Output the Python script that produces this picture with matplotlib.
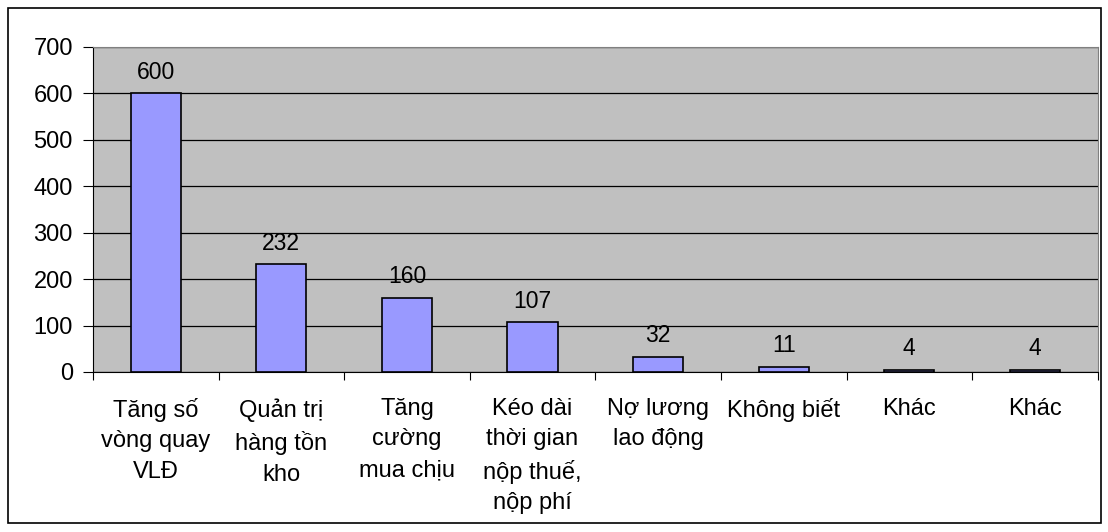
import numpy as np
import matplotlib.pyplot as plt
from matplotlib.patches import Rectangle

plt.rcParams['font.family'] = ['Liberation Sans', 'DejaVu Sans']

# data
labels = ["Tăng số\nvòng quay\nVLĐ", "Quản trị\nhàng tồn\nkho", "Tăng\ncường\nmua chịu",
          "Kéo dài\nthời gian\nnộp thuế,\nnộp phí", "Nợ lương\nlao động",
          "Không biết", "Khác", "Khác"]
values = [600, 232, 160, 107, 32, 11, 4, 4]
yticks = [0, 100, 200, 300, 400, 500, 600, 700]

fig = plt.figure(figsize=(11.08, 5.32), dpi=100)
ax = fig.add_axes([0.0839, 0.3008, 0.9068, 0.6109])
ax.set_facecolor('#C0C0C0')

x = np.arange(len(values))
bars = ax.bar(x, values, width=0.4, color='#9999FF', edgecolor='black', linewidth=1.2, zorder=3)
for xi, v in zip(x, values):
    ax.annotate(str(v), (xi, v), xytext=(0, 7), textcoords='offset points',
                ha='center', va='bottom', fontsize=16.5)

ax.set_xlim(-0.5, len(values) - 0.5)
ax.set_ylim(0, 700)
ax.set_yticks(yticks)
ax.yaxis.grid(True, color='black', linewidth=0.9, zorder=1)
ax.tick_params(axis='y', labelsize=17, length=7, direction='out', pad=7.5)

# category ticks between bars
ax.set_xticks(np.arange(len(values) + 1) - 0.5)
ax.set_xticklabels([])
ax.tick_params(axis='x', length=6, direction='out')
for xi, lab in zip(x, labels):
    ax.text(xi, -0.08, lab, transform=ax.get_xaxis_transform(), ha='center', va='top',
            fontsize=17, linespacing=1.5)

for side in ['top', 'right']:
    ax.spines[side].set_color('#808080')
ax.spines['left'].set_color('black')
ax.spines['bottom'].set_color('black')

# outer chart border
fig.patches.append(Rectangle((8 / 1108, 1 - 523 / 532), (1101 - 8) / 1108, (523 - 8) / 532,
                             transform=fig.transFigure, fill=False, edgecolor='black', linewidth=1.2))

fig.savefig('out.png', dpi=100)
